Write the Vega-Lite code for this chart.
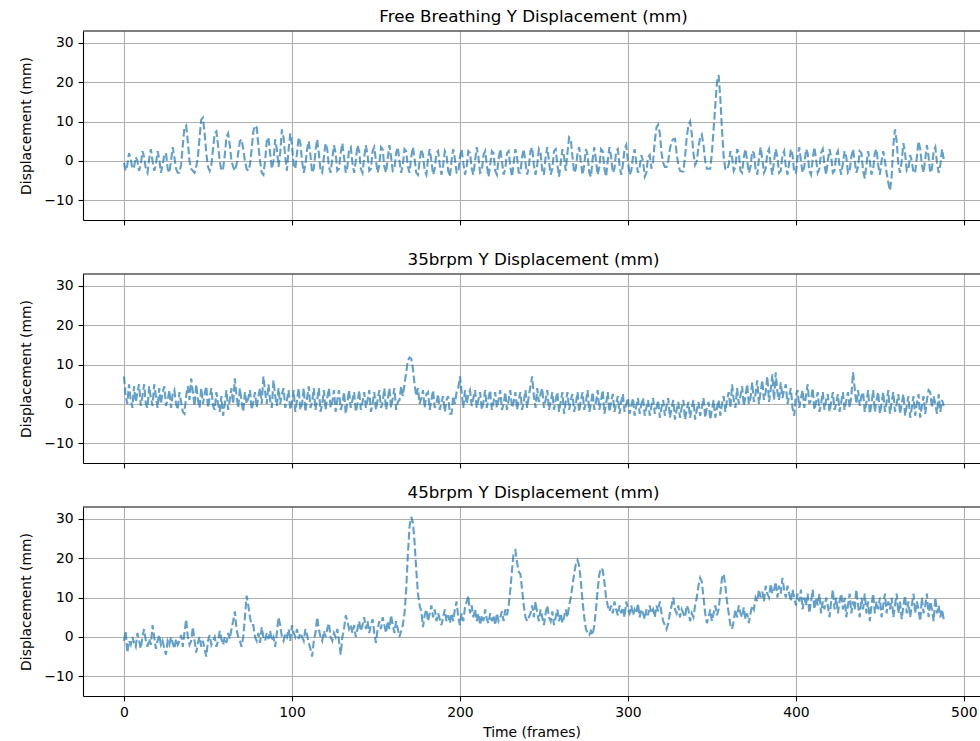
{
"$schema": "https://vega.github.io/schema/vega-lite/v6.json",
"background": "white",
"padding": {"left": 19, "top": 8, "right": 0, "bottom": 0},
"spacing": 25,
"config": {
 "font": "DejaVu Sans",
 "view": {"stroke": null},
 "axis": {"domainColor": "black", "domainWidth": 1.1, "tickColor": "black", "tickWidth": 1.1, "tickSize": 4.9, "gridColor": "#b0b0b0", "gridWidth": 1.1, "labelFont": "DejaVu Sans", "labelFontSize": 13.9, "labelColor": "black", "labelPadding": 4.9, "titleFont": "DejaVu Sans", "titleFontSize": 13.9, "titleFontWeight": "normal", "titleColor": "black"},
 "title": {"font": "DejaVu Sans", "fontSize": 16.7, "fontWeight": "normal", "color": "black", "offset": 5, "anchor": "middle", "dx": 2}
},
"datasets": {"d": [
{"t":0,"a":-0.5,"b":7,"c":-1},{"t":1,"a":-2.5,"b":2,"c":1.5},{"t":2,"a":-1,"b":0,"c":-4},{"t":3,"a":2,"b":5,"c":-1},{"t":4,"a":0.5,"b":1,"c":-2},{"t":5,"a":-2,"b":-1,"c":0},{"t":6,"a":-1.5,"b":4.5,"c":-1.5},{"t":7,"a":1,"b":0.5,"c":-2.5},{"t":8,"a":0,"b":3,"c":1},{"t":9,"a":-2.5,"b":5,"c":-1},
{"t":10,"a":-1,"b":-0.5,"c":-3},{"t":11,"a":2.5,"b":2,"c":0},{"t":12,"a":1,"b":5,"c":2},{"t":13,"a":-2,"b":0,"c":-1},{"t":14,"a":-3,"b":-1,"c":-2.5},{"t":15,"a":0.5,"b":4.5,"c":-0.5},{"t":16,"a":3,"b":1.5,"c":-2},{"t":17,"a":0,"b":-0.5,"c":3},{"t":18,"a":-2.5,"b":5,"c":0},{"t":19,"a":-1,"b":2,"c":-3},
{"t":20,"a":2.5,"b":-1,"c":-1},{"t":21,"a":0.5,"b":4,"c":0.5},{"t":22,"a":-3,"b":0,"c":-2},{"t":23,"a":-1,"b":3,"c":-1},{"t":24,"a":1.5,"b":4.5,"c":-3},{"t":25,"a":2,"b":-0.5,"c":-4.5},{"t":26,"a":-2,"b":1,"c":-1},{"t":27,"a":-3,"b":3.5,"c":-2},{"t":28,"a":0,"b":-1,"c":0},{"t":29,"a":3.5,"b":2.5,"c":-1.5},
{"t":30,"a":1,"b":3.5,"c":-3},{"t":31,"a":-2,"b":0,"c":-0.5},{"t":32,"a":-3,"b":-1.5,"c":-2},{"t":33,"a":-3,"b":3,"c":-1},{"t":34,"a":-1,"b":0.5,"c":0.5},{"t":35,"a":4,"b":-2,"c":-2.5},{"t":36,"a":8.5,"b":-2.5,"c":1},{"t":37,"a":9,"b":2,"c":4.5},{"t":38,"a":5,"b":4.5,"c":0},{"t":39,"a":0,"b":1,"c":-2},
{"t":40,"a":-2,"b":6.5,"c":-1},{"t":41,"a":-2.5,"b":3,"c":2.5},{"t":42,"a":-3,"b":-0.5,"c":-1},{"t":43,"a":-1.5,"b":5,"c":-4},{"t":44,"a":1,"b":1,"c":-1.5},{"t":45,"a":6,"b":-1,"c":0},{"t":46,"a":10.5,"b":4,"c":-2.5},{"t":47,"a":11,"b":0,"c":-1},{"t":48,"a":7,"b":2.5,"c":-3},{"t":49,"a":2,"b":4.5,"c":-5},
{"t":50,"a":-1.5,"b":-1,"c":-1},{"t":51,"a":-2.5,"b":1.5,"c":0.5},{"t":52,"a":-1,"b":4,"c":-2},{"t":53,"a":3,"b":-0.5,"c":-1},{"t":54,"a":7,"b":-1.5,"c":0},{"t":55,"a":7.5,"b":3,"c":-2.5},{"t":56,"a":4,"b":0,"c":-1},{"t":57,"a":0,"b":-2,"c":1.5},{"t":58,"a":-2.5,"b":2,"c":-0.5},{"t":59,"a":-2,"b":-3,"c":-2},
{"t":60,"a":1.5,"b":0,"c":0},{"t":61,"a":6,"b":3.5,"c":-1.5},{"t":62,"a":7,"b":-1.5,"c":1},{"t":63,"a":4,"b":1,"c":-0.5},{"t":64,"a":0,"b":4,"c":2},{"t":65,"a":-1.5,"b":0,"c":4},{"t":66,"a":-2.5,"b":6.5,"c":6.5},{"t":67,"a":-1,"b":2,"c":2},{"t":68,"a":2,"b":-1,"c":0},{"t":69,"a":5,"b":4,"c":-1},
{"t":70,"a":5.5,"b":0.5,"c":-2.5},{"t":71,"a":3,"b":-2,"c":0},{"t":72,"a":0,"b":3,"c":5},{"t":73,"a":-2,"b":0,"c":10.5},{"t":74,"a":-2.5,"b":1.5,"c":8},{"t":75,"a":-1,"b":3.5,"c":5},{"t":76,"a":3,"b":-1.5,"c":3},{"t":77,"a":7.5,"b":0.5,"c":3},{"t":78,"a":9,"b":3,"c":0},{"t":79,"a":8.5,"b":-1,"c":-1},
{"t":80,"a":4,"b":2,"c":1},{"t":81,"a":0,"b":4,"c":-1.5},{"t":82,"a":-3,"b":0,"c":2.5},{"t":83,"a":-3.5,"b":7,"c":0},{"t":84,"a":0,"b":3,"c":-1},{"t":85,"a":5,"b":0,"c":1},{"t":86,"a":6,"b":5,"c":-0.5},{"t":87,"a":2,"b":1,"c":1.5},{"t":88,"a":-2,"b":-1,"c":-1},{"t":89,"a":0,"b":6,"c":0},
{"t":90,"a":5.5,"b":2,"c":-2.5},{"t":91,"a":3,"b":-0.5,"c":1},{"t":92,"a":-1.5,"b":4,"c":5},{"t":93,"a":2,"b":0,"c":3},{"t":94,"a":8,"b":2.5,"c":0},{"t":95,"a":6,"b":4,"c":-1},{"t":96,"a":1,"b":-1,"c":1},{"t":97,"a":-2.5,"b":1,"c":0},{"t":98,"a":3,"b":3.5,"c":2},{"t":99,"a":7,"b":-1.5,"c":-1},
{"t":100,"a":4,"b":0.5,"c":3},{"t":101,"a":-1,"b":3.5,"c":1},{"t":102,"a":-2,"b":-2,"c":0},{"t":103,"a":2,"b":1,"c":2},{"t":104,"a":6,"b":4,"c":-0.5},{"t":105,"a":4.5,"b":-1.5,"c":1},{"t":106,"a":0,"b":0,"c":0},{"t":107,"a":-3,"b":4,"c":-1},{"t":108,"a":-1,"b":-2,"c":2},{"t":109,"a":3,"b":1.5,"c":0.5},
{"t":110,"a":5,"b":4.5,"c":-1.5},{"t":111,"a":1.5,"b":-1,"c":-3},{"t":112,"a":-3,"b":0.5,"c":-5},{"t":113,"a":-2,"b":4,"c":-1},{"t":114,"a":2.5,"b":-1.5,"c":1},{"t":115,"a":5.5,"b":1,"c":5},{"t":116,"a":2,"b":4,"c":2},{"t":117,"a":-2.5,"b":-2,"c":0},{"t":118,"a":-3,"b":0,"c":-1},{"t":119,"a":1,"b":3.5,"c":1.5},
{"t":120,"a":4.5,"b":-1.5,"c":0},{"t":121,"a":3,"b":1.5,"c":2},{"t":122,"a":-1.5,"b":4,"c":3.5},{"t":123,"a":-3,"b":-1,"c":0},{"t":124,"a":0.5,"b":0.5,"c":-1},{"t":125,"a":4,"b":3.5,"c":1},{"t":126,"a":2,"b":-2,"c":0},{"t":127,"a":-2.5,"b":1,"c":2},{"t":128,"a":-2,"b":3.5,"c":-1},{"t":129,"a":2,"b":-1.5,"c":-4.5},
{"t":130,"a":4.5,"b":0,"c":0},{"t":131,"a":1,"b":3,"c":2},{"t":132,"a":-3,"b":-2.5,"c":5.5},{"t":133,"a":-1.5,"b":0.5,"c":4},{"t":134,"a":3,"b":3.5,"c":2},{"t":135,"a":3.5,"b":-1,"c":3},{"t":136,"a":-0.5,"b":1,"c":1},{"t":137,"a":-3,"b":3,"c":3},{"t":138,"a":0,"b":-2,"c":0},{"t":139,"a":4,"b":0,"c":2},
{"t":140,"a":2.5,"b":3.5,"c":4},{"t":141,"a":-2,"b":-1.5,"c":1.5},{"t":142,"a":-3,"b":0.5,"c":3},{"t":143,"a":1,"b":3,"c":5},{"t":144,"a":4,"b":-1,"c":2},{"t":145,"a":1.5,"b":1,"c":4},{"t":146,"a":-2.5,"b":3.5,"c":1},{"t":147,"a":-2,"b":-2,"c":3},{"t":148,"a":2.5,"b":0,"c":4.5},{"t":149,"a":3.5,"b":3,"c":1},
{"t":150,"a":0,"b":-1.5,"c":-1.5},{"t":151,"a":-3,"b":1,"c":2},{"t":152,"a":-1,"b":3.5,"c":4},{"t":153,"a":3.5,"b":-1,"c":2},{"t":154,"a":3,"b":0.5,"c":5},{"t":155,"a":-1.5,"b":4,"c":3},{"t":156,"a":-3,"b":-1.5,"c":1},{"t":157,"a":0.5,"b":1,"c":4},{"t":158,"a":4,"b":4,"c":2},{"t":159,"a":1,"b":-1,"c":5.5},
{"t":160,"a":-2.5,"b":1.5,"c":3},{"t":161,"a":-2,"b":4,"c":1},{"t":162,"a":2,"b":-1.5,"c":4},{"t":163,"a":3.5,"b":0.5,"c":2},{"t":164,"a":0,"b":1,"c":0},{"t":165,"a":-3,"b":4.5,"c":1.5},{"t":166,"a":-1,"b":2,"c":3},{"t":167,"a":3,"b":5,"c":6},{"t":168,"a":2.5,"b":8,"c":12},{"t":169,"a":-1.5,"b":11,"c":21},
{"t":170,"a":-3,"b":11.8,"c":28},{"t":171,"a":1,"b":11.5,"c":30.5},{"t":172,"a":3.5,"b":9,"c":29},{"t":173,"a":0.5,"b":5,"c":24},{"t":174,"a":-3,"b":2,"c":17},{"t":175,"a":-3.5,"b":4,"c":11},{"t":176,"a":0,"b":0,"c":8},{"t":177,"a":3,"b":1.5,"c":6.5},{"t":178,"a":1.5,"b":3.5,"c":2.5},{"t":179,"a":-2.5,"b":-1,"c":5.5},
{"t":180,"a":-3.5,"b":2.5,"c":7},{"t":181,"a":0.5,"b":3,"c":4},{"t":182,"a":3,"b":-1.5,"c":6},{"t":183,"a":0,"b":1,"c":8},{"t":184,"a":-3.5,"b":3.5,"c":5},{"t":185,"a":-2,"b":-1,"c":7},{"t":186,"a":2,"b":0,"c":4},{"t":187,"a":2.5,"b":2.5,"c":6},{"t":188,"a":-1,"b":-1.5,"c":4.5},{"t":189,"a":-3.5,"b":0.5,"c":3},
{"t":190,"a":-1,"b":2,"c":5},{"t":191,"a":2.5,"b":-2,"c":7},{"t":192,"a":1.5,"b":1,"c":4},{"t":193,"a":-2.5,"b":2,"c":5.5},{"t":194,"a":-4,"b":-2.5,"c":3.5},{"t":195,"a":0,"b":-2.5,"c":6},{"t":196,"a":3,"b":2,"c":4},{"t":197,"a":0.5,"b":0,"c":7},{"t":198,"a":-3,"b":3,"c":9},{"t":199,"a":-3,"b":4,"c":5},
{"t":200,"a":1,"b":7,"c":3},{"t":201,"a":3,"b":3,"c":6},{"t":202,"a":-0.5,"b":-1,"c":4},{"t":203,"a":-3.5,"b":3.5,"c":7.5},{"t":204,"a":-1.5,"b":0,"c":9},{"t":205,"a":2.5,"b":2.5,"c":10.5},{"t":206,"a":2,"b":3.5,"c":6},{"t":207,"a":-2,"b":-0.5,"c":8},{"t":208,"a":-3.5,"b":1.5,"c":5},{"t":209,"a":0,"b":3.5,"c":7},
{"t":210,"a":3.5,"b":-1,"c":4},{"t":211,"a":1,"b":1,"c":6},{"t":212,"a":-3,"b":3,"c":3},{"t":213,"a":-2.5,"b":-1.5,"c":5.5},{"t":214,"a":1.5,"b":0.5,"c":4},{"t":215,"a":2.5,"b":3.5,"c":7},{"t":216,"a":-1,"b":-1,"c":4.5},{"t":217,"a":-4,"b":1.5,"c":3.5},{"t":218,"a":-1,"b":3.5,"c":6},{"t":219,"a":2.5,"b":-1.5,"c":4},
{"t":220,"a":2,"b":0.5,"c":5.5},{"t":221,"a":-2.5,"b":3,"c":3},{"t":222,"a":-3.5,"b":-1,"c":6},{"t":223,"a":0.5,"b":1,"c":4},{"t":224,"a":3,"b":3.5,"c":5},{"t":225,"a":0,"b":-1.5,"c":6.5},{"t":226,"a":-3.5,"b":0,"c":4},{"t":227,"a":-2,"b":3,"c":7},{"t":228,"a":2,"b":-1.5,"c":5.5},{"t":229,"a":2.5,"b":1,"c":8},
{"t":230,"a":-1.5,"b":3.5,"c":12},{"t":231,"a":-4,"b":-1,"c":17},{"t":232,"a":-0.5,"b":0.5,"c":21.5},{"t":233,"a":3,"b":3,"c":22},{"t":234,"a":1,"b":-1.5,"c":19},{"t":235,"a":-3,"b":1,"c":16.5},{"t":236,"a":-3,"b":3,"c":16},{"t":237,"a":1,"b":-1.5,"c":12},{"t":238,"a":3,"b":0.5,"c":8},{"t":239,"a":-0.5,"b":3.5,"c":5},
{"t":240,"a":-3.5,"b":-1,"c":4},{"t":241,"a":-1.5,"b":2,"c":5},{"t":242,"a":2.5,"b":4.5,"c":6},{"t":243,"a":3.5,"b":7,"c":8},{"t":244,"a":-1,"b":2,"c":5},{"t":245,"a":-3.5,"b":-1,"c":9},{"t":246,"a":-1,"b":4,"c":6},{"t":247,"a":3,"b":0.5,"c":4},{"t":248,"a":2,"b":2.5,"c":7},{"t":249,"a":-2.5,"b":4,"c":5},
{"t":250,"a":-3.5,"b":-1,"c":3},{"t":251,"a":1,"b":1,"c":6},{"t":252,"a":3.5,"b":3.5,"c":8},{"t":253,"a":0,"b":-1.5,"c":5},{"t":254,"a":-3.5,"b":0.5,"c":4},{"t":255,"a":-2,"b":3,"c":6.5},{"t":256,"a":2.5,"b":-1.5,"c":3},{"t":257,"a":3,"b":1,"c":5},{"t":258,"a":-1,"b":3,"c":7},{"t":259,"a":-4,"b":-2,"c":4},
{"t":260,"a":-0.5,"b":0.5,"c":6},{"t":261,"a":3,"b":3,"c":3.5},{"t":262,"a":1,"b":-2.5,"c":5},{"t":263,"a":-2.5,"b":0.5,"c":7},{"t":264,"a":2,"b":3,"c":5},{"t":265,"a":6,"b":-1.5,"c":8},{"t":266,"a":5.5,"b":1,"c":10},{"t":267,"a":1,"b":2.5,"c":13},{"t":268,"a":-3,"b":-2,"c":16},{"t":269,"a":-2,"b":0,"c":18.5},
{"t":270,"a":2,"b":3,"c":19.5},{"t":271,"a":3.5,"b":-2,"c":18},{"t":272,"a":-0.5,"b":1,"c":14},{"t":273,"a":-3.5,"b":3,"c":9},{"t":274,"a":-1,"b":-1.5,"c":5},{"t":275,"a":3,"b":0.5,"c":2},{"t":276,"a":1.5,"b":3.5,"c":1},{"t":277,"a":-3,"b":-2,"c":0.5},{"t":278,"a":-4,"b":0,"c":1.5},{"t":279,"a":0.5,"b":3,"c":0.5},
{"t":280,"a":3.5,"b":-1.5,"c":3},{"t":281,"a":0,"b":0.5,"c":7},{"t":282,"a":-3.5,"b":3.5,"c":12},{"t":283,"a":-1.5,"b":-1.5,"c":16},{"t":284,"a":3,"b":1,"c":17.5},{"t":285,"a":2.5,"b":3.5,"c":17},{"t":286,"a":-2,"b":-2.5,"c":14},{"t":287,"a":-4,"b":0,"c":10},{"t":288,"a":0,"b":3,"c":8},{"t":289,"a":3.5,"b":-2,"c":6.5},
{"t":290,"a":1,"b":0.5,"c":8},{"t":291,"a":-3,"b":2.5,"c":6},{"t":292,"a":-2,"b":-2,"c":9},{"t":293,"a":2.5,"b":0,"c":7},{"t":294,"a":3,"b":2,"c":5.5},{"t":295,"a":-1,"b":-2.5,"c":8},{"t":296,"a":-3.5,"b":0.5,"c":6},{"t":297,"a":-1,"b":2.5,"c":7.5},{"t":298,"a":3,"b":-2,"c":5},{"t":299,"a":4,"b":0,"c":9},
{"t":300,"a":0,"b":1.5,"c":7},{"t":301,"a":-3.5,"b":-2.5,"c":6},{"t":302,"a":-2.5,"b":-0.5,"c":8},{"t":303,"a":1,"b":1.5,"c":5.5},{"t":304,"a":3,"b":-3,"c":7},{"t":305,"a":-0.5,"b":-0.5,"c":6},{"t":306,"a":-3,"b":1.5,"c":8.5},{"t":307,"a":-1.5,"b":-2.5,"c":5},{"t":308,"a":1.5,"b":0,"c":7},{"t":309,"a":0,"b":1.5,"c":6},
{"t":310,"a":-4,"b":-3,"c":4.5},{"t":311,"a":-3,"b":-1,"c":7},{"t":312,"a":1,"b":1,"c":5.5},{"t":313,"a":1.5,"b":-3,"c":8},{"t":314,"a":-2,"b":-0.5,"c":6},{"t":315,"a":0,"b":1.5,"c":7},{"t":316,"a":5,"b":-2.5,"c":5},{"t":317,"a":8.5,"b":-1,"c":8},{"t":318,"a":9.2,"b":1,"c":6.5},{"t":319,"a":7,"b":-3.5,"c":9},
{"t":320,"a":2,"b":-1,"c":6},{"t":321,"a":-0.5,"b":1,"c":4},{"t":322,"a":-1.5,"b":-3,"c":3},{"t":323,"a":-1.5,"b":-0.5,"c":2},{"t":324,"a":0,"b":1.5,"c":3.5},{"t":325,"a":3,"b":-3.5,"c":6},{"t":326,"a":5,"b":-1,"c":8},{"t":327,"a":5.5,"b":1,"c":10},{"t":328,"a":5.6,"b":-4,"c":7},{"t":329,"a":2,"b":-1.5,"c":6},
{"t":330,"a":-1,"b":0.5,"c":8},{"t":331,"a":-2.5,"b":-3.5,"c":5},{"t":332,"a":-2.7,"b":-1,"c":7},{"t":333,"a":-2.7,"b":1,"c":6},{"t":334,"a":1,"b":-4,"c":5},{"t":335,"a":6,"b":-1.5,"c":8},{"t":336,"a":9,"b":0.5,"c":7},{"t":337,"a":10,"b":-3.5,"c":4},{"t":338,"a":7,"b":-1,"c":6},{"t":339,"a":2,"b":1,"c":5},
{"t":340,"a":-1,"b":-4,"c":8},{"t":341,"a":0,"b":-1.5,"c":10},{"t":342,"a":3.5,"b":0.5,"c":13},{"t":343,"a":6,"b":-3,"c":15},{"t":344,"a":6.7,"b":-1,"c":14},{"t":345,"a":4,"b":1.5,"c":10},{"t":346,"a":0,"b":-3.5,"c":6},{"t":347,"a":-2,"b":-1,"c":3.5},{"t":348,"a":-2,"b":0.5,"c":5},{"t":349,"a":-2,"b":-4,"c":7},
{"t":350,"a":2,"b":-1.5,"c":4},{"t":351,"a":8,"b":1,"c":6},{"t":352,"a":14,"b":-3.5,"c":8},{"t":353,"a":20,"b":-1,"c":5.5},{"t":354,"a":21.8,"b":1,"c":7},{"t":355,"a":16,"b":-3,"c":11},{"t":356,"a":8,"b":0,"c":15},{"t":357,"a":1,"b":2,"c":16},{"t":358,"a":-2,"b":-2,"c":13},{"t":359,"a":-2.3,"b":1,"c":9},
{"t":360,"a":-1,"b":3,"c":6},{"t":361,"a":2.5,"b":-1,"c":3},{"t":362,"a":1,"b":5,"c":2},{"t":363,"a":-2.5,"b":1,"c":4},{"t":364,"a":-1.5,"b":-1,"c":7},{"t":365,"a":3,"b":4,"c":5},{"t":366,"a":2,"b":0,"c":8},{"t":367,"a":-2.5,"b":2,"c":6},{"t":368,"a":-3,"b":4.5,"c":5},{"t":369,"a":1,"b":-0.5,"c":7.5},
{"t":370,"a":3,"b":2,"c":4.5},{"t":371,"a":0,"b":5,"c":6},{"t":372,"a":-3,"b":0,"c":3.5},{"t":373,"a":-1.5,"b":1.5,"c":6},{"t":374,"a":2.5,"b":5.5,"c":8},{"t":375,"a":2,"b":0.5,"c":7},{"t":376,"a":-2,"b":2.5,"c":10},{"t":377,"a":-3.5,"b":6,"c":9},{"t":378,"a":0.5,"b":0,"c":12},{"t":379,"a":3.5,"b":3,"c":10},
{"t":380,"a":0.5,"b":6,"c":11.5},{"t":381,"a":-3,"b":1,"c":9},{"t":382,"a":-2,"b":3,"c":13},{"t":383,"a":2,"b":7,"c":11},{"t":384,"a":3,"b":0.5,"c":10},{"t":385,"a":-1,"b":3.5,"c":13.5},{"t":386,"a":-3.5,"b":7.5,"c":11},{"t":387,"a":0,"b":1,"c":12},{"t":388,"a":3,"b":8,"c":14},{"t":389,"a":1,"b":3,"c":10},
{"t":390,"a":-3,"b":1,"c":13},{"t":391,"a":-2.5,"b":5.5,"c":11},{"t":392,"a":1.5,"b":1.5,"c":15},{"t":393,"a":2.5,"b":3.5,"c":12},{"t":394,"a":-1.5,"b":5,"c":10},{"t":395,"a":-3.5,"b":0,"c":13},{"t":396,"a":-0.5,"b":2,"c":11},{"t":397,"a":3,"b":4,"c":9},{"t":398,"a":1.5,"b":-1,"c":12},{"t":399,"a":-3,"b":-3,"c":10},
{"t":400,"a":-3,"b":2,"c":8},{"t":401,"a":1,"b":3.5,"c":11},{"t":402,"a":3.5,"b":-1,"c":9},{"t":403,"a":0,"b":1.5,"c":12},{"t":404,"a":-3,"b":3.5,"c":7},{"t":405,"a":-1.5,"b":-1,"c":10},{"t":406,"a":3,"b":2,"c":8},{"t":407,"a":2,"b":5,"c":11},{"t":408,"a":-2.5,"b":0,"c":6},{"t":409,"a":-3.5,"b":1,"c":9},
{"t":410,"a":0.5,"b":4,"c":12},{"t":411,"a":3.5,"b":-1.5,"c":7},{"t":412,"a":0.5,"b":0.5,"c":10},{"t":413,"a":-3,"b":3,"c":8},{"t":414,"a":-2,"b":-2,"c":11},{"t":415,"a":2,"b":0,"c":6},{"t":416,"a":3,"b":3,"c":9},{"t":417,"a":-1,"b":-1.5,"c":7},{"t":418,"a":-3.5,"b":1,"c":10},{"t":419,"a":0,"b":2.5,"c":8},
{"t":420,"a":3,"b":-2,"c":5},{"t":421,"a":1,"b":0.5,"c":9},{"t":422,"a":-3,"b":3,"c":12},{"t":423,"a":-2.5,"b":-1.5,"c":7},{"t":424,"a":1.5,"b":0,"c":10},{"t":425,"a":2.5,"b":2.5,"c":6},{"t":426,"a":-1.5,"b":-2,"c":9},{"t":427,"a":-3.5,"b":0.5,"c":11},{"t":428,"a":-0.5,"b":3,"c":7},{"t":429,"a":2.5,"b":-1.5,"c":10},
{"t":430,"a":1,"b":1,"c":5},{"t":431,"a":-3,"b":3,"c":8},{"t":432,"a":-2.5,"b":-1,"c":11},{"t":433,"a":1,"b":2,"c":6},{"t":434,"a":3,"b":8,"c":9},{"t":435,"a":0,"b":4,"c":7},{"t":436,"a":-3,"b":0,"c":12},{"t":437,"a":-1.5,"b":3.5,"c":8},{"t":438,"a":2.5,"b":-0.5,"c":5},{"t":439,"a":2,"b":2,"c":10},
{"t":440,"a":-2.5,"b":3,"c":7},{"t":441,"a":-4.5,"b":-2,"c":11},{"t":442,"a":-1,"b":0.5,"c":6},{"t":443,"a":2.5,"b":3.5,"c":9},{"t":444,"a":0,"b":-2.5,"c":4},{"t":445,"a":-3.5,"b":0,"c":8},{"t":446,"a":-2,"b":3.5,"c":11},{"t":447,"a":2,"b":-2,"c":6},{"t":448,"a":3,"b":1,"c":9},{"t":449,"a":-1,"b":3,"c":7},
{"t":450,"a":-3.5,"b":-2.5,"c":10},{"t":451,"a":0,"b":0,"c":5},{"t":452,"a":2.5,"b":3,"c":8},{"t":453,"a":0,"b":-2,"c":11},{"t":454,"a":-3,"b":0.5,"c":6},{"t":455,"a":-5.5,"b":3.5,"c":9},{"t":456,"a":-7.5,"b":-2.5,"c":7},{"t":457,"a":-4,"b":0.5,"c":10},{"t":458,"a":4,"b":3,"c":5},{"t":459,"a":8,"b":-2,"c":8},
{"t":460,"a":5,"b":0,"c":11},{"t":461,"a":-1,"b":2.5,"c":6},{"t":462,"a":-3,"b":-2.5,"c":9},{"t":463,"a":0,"b":0,"c":4.5},{"t":464,"a":4.5,"b":2.5,"c":8},{"t":465,"a":2,"b":-3,"c":10.5},{"t":466,"a":-2.5,"b":-0.5,"c":6},{"t":467,"a":-2,"b":2,"c":9},{"t":468,"a":1.5,"b":-3.5,"c":5},{"t":469,"a":0,"b":-1,"c":8},
{"t":470,"a":-3,"b":2,"c":11},{"t":471,"a":-3,"b":-3,"c":6},{"t":472,"a":1,"b":0,"c":9},{"t":473,"a":5,"b":2.5,"c":7},{"t":474,"a":3,"b":-3.5,"c":4},{"t":475,"a":-1,"b":-0.5,"c":10},{"t":476,"a":-3,"b":2,"c":6},{"t":477,"a":0.5,"b":-2.5,"c":8},{"t":478,"a":4,"b":1,"c":11},{"t":479,"a":1,"b":3.5,"c":5},
{"t":480,"a":-3,"b":3,"c":9},{"t":481,"a":-2,"b":-1,"c":7},{"t":482,"a":2.5,"b":2,"c":4},{"t":483,"a":3.5,"b":0,"c":10},{"t":484,"a":-0.5,"b":-2.5,"c":6},{"t":485,"a":-3,"b":2.5,"c":8},{"t":486,"a":-1,"b":-2,"c":5},{"t":487,"a":3,"b":1,"c":7},{"t":488,"a":0.5,"b":-0.5,"c":4.5}
]},
"vconcat": [
{
 "title": "Free Breathing Y Displacement (mm)",
 "width": 897, "height": 189,
 "layer": [
  {"data": {"name": "d"},
   "mark": {"type": "line", "color": "#1f77b4", "opacity": 0.7, "strokeWidth": 2.1, "strokeDash": [7.7, 3.3]},
   "encoding": {
    "x": {"field": "t", "type": "quantitative", "scale": {"domain": [-24.4, 509.6], "nice": false, "zero": false}, "axis": {"values": [0, 100, 200, 300, 400, 500], "labels": false, "title": null}},
    "y": {"field": "a", "type": "quantitative", "scale": {"domain": [-15, 33], "nice": false, "zero": false}, "axis": {"values": [-10, 0, 10, 20, 30], "title": "Displacement (mm)", "titlePadding": 10}}
   }},
  {"data": {"values": [{}]}, "mark": {"type": "rule", "color": "black", "strokeWidth": 1.1}, "encoding": {"y": {"datum": 33}}}
 ]
},
{
 "spacing": 15,
 "vconcat": [
 {
  "title": "35brpm Y Displacement (mm)",
  "width": 897, "height": 189,
  "layer": [
   {"data": {"name": "d"},
    "mark": {"type": "line", "color": "#1f77b4", "opacity": 0.7, "strokeWidth": 2.1, "strokeDash": [7.7, 3.3]},
    "encoding": {
     "x": {"field": "t", "type": "quantitative", "scale": {"domain": [-24.4, 509.6], "nice": false, "zero": false}, "axis": {"values": [0, 100, 200, 300, 400, 500], "labels": false, "title": null}},
     "y": {"field": "b", "type": "quantitative", "scale": {"domain": [-15, 33], "nice": false, "zero": false}, "axis": {"values": [-10, 0, 10, 20, 30], "title": "Displacement (mm)", "titlePadding": 10}}
    }},
   {"data": {"values": [{}]}, "mark": {"type": "rule", "color": "black", "strokeWidth": 1.1}, "encoding": {"y": {"datum": 33}}}
  ]
 },
 {
  "title": "45brpm Y Displacement (mm)",
  "width": 897, "height": 189,
  "layer": [
   {"data": {"name": "d"},
    "mark": {"type": "line", "color": "#1f77b4", "opacity": 0.7, "strokeWidth": 2.1, "strokeDash": [7.7, 3.3]},
    "encoding": {
     "x": {"field": "t", "type": "quantitative", "scale": {"domain": [-24.4, 509.6], "nice": false, "zero": false}, "axis": {"values": [0, 100, 200, 300, 400, 500], "title": "Time (frames)", "titlePadding": 6}},
     "y": {"field": "c", "type": "quantitative", "scale": {"domain": [-15, 33], "nice": false, "zero": false}, "axis": {"values": [-10, 0, 10, 20, 30], "title": "Displacement (mm)", "titlePadding": 10}}
    }},
   {"data": {"values": [{}]}, "mark": {"type": "rule", "color": "black", "strokeWidth": 1.1}, "encoding": {"y": {"datum": 33}}}
  ]
 }
 ]
}
]
}
